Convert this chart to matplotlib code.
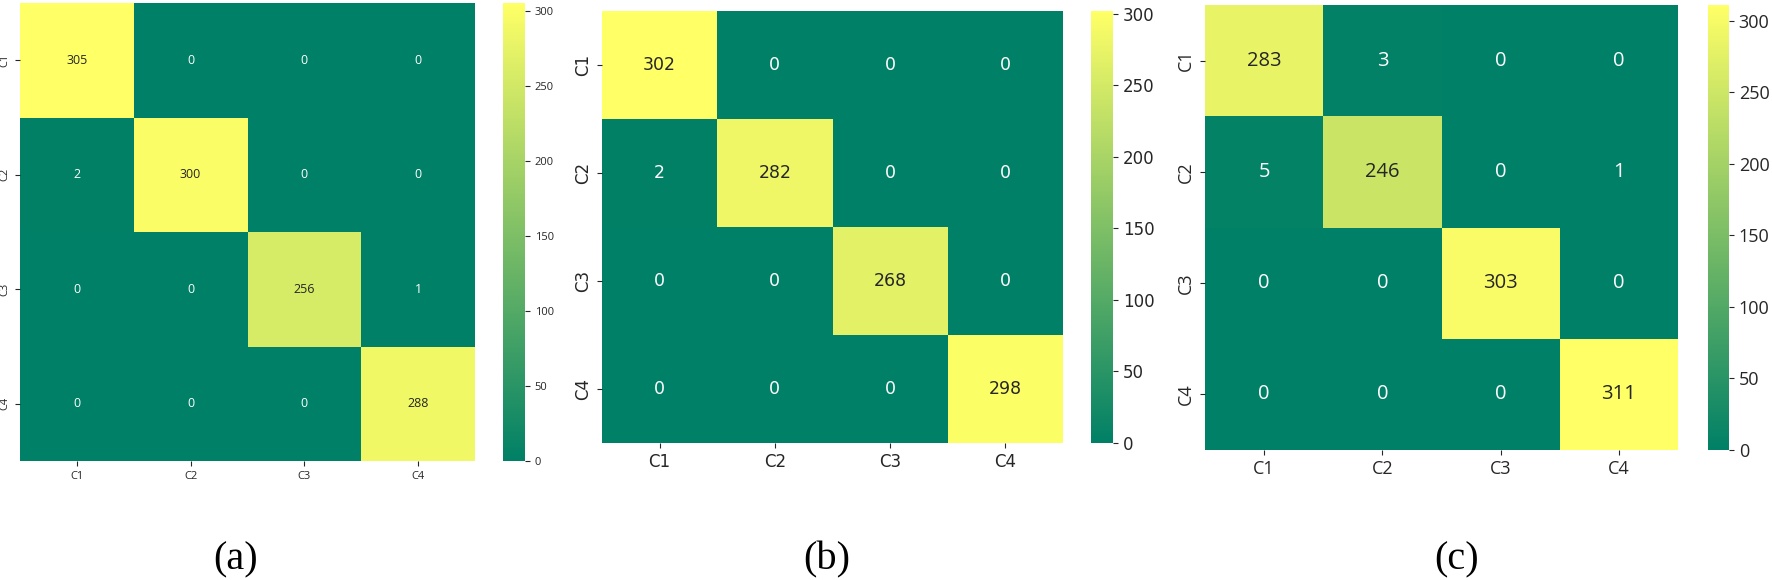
"""
Three confusion matrices side by side, (a) (b) (c), summer colormap.
Saves to out.png
"""

import numpy as np
import matplotlib.pyplot as plt

# Data
class_names = ['C1', 'C2', 'C3', 'C4']
cm_a = [[305, 0, 0, 0],
        [2, 300, 0, 0],
        [0, 0, 256, 1],
        [0, 0, 0, 288]]
cm_b = [[302, 0, 0, 0],
        [2, 282, 0, 0],
        [0, 0, 268, 0],
        [0, 0, 0, 298]]
cm_c = [[283, 3, 0, 0],
        [5, 246, 0, 1],
        [0, 0, 303, 0],
        [0, 0, 0, 311]]
panel_labels = ['(a)', '(b)', '(c)']
cbar_ticks = [0, 50, 100, 150, 200, 250, 300]

W, H = 1772, 580

# pixel boxes: heatmap (x0, x1, ytop, ybottom), colorbar (x0, x1)
panels = [
    dict(cm=cm_a, heat=(20, 475, 3, 461), cbar=(503, 525), font='Open Sans',
         tick_fs=8, annot_fs=9, lab_x=236),
    dict(cm=cm_b, heat=(602, 1063, 11, 443), cbar=(1091, 1113), font='DejaVu Sans',
         tick_fs=12, annot_fs=12.5, lab_x=827),
    dict(cm=cm_c, heat=(1205, 1678, 5, 450), cbar=(1708, 1729), font='Open Sans',
         tick_fs=13, annot_fs=14.5, lab_x=1457),
]

cmap = plt.get_cmap('summer')

fig = plt.figure(figsize=(W / 100, H / 100), dpi=100)

for i, p in enumerate(panels):
    data = np.array(p['cm'])
    x0, x1, yt, yb = p['heat']
    ax = fig.add_axes([x0 / W, 1 - yb / H, (x1 - x0) / W, (yb - yt) / H])
    vmin, vmax = 0, data.max()
    mesh = ax.pcolormesh(data, cmap=cmap, vmin=vmin, vmax=vmax)
    ax.set_xlim(0, data.shape[1])
    ax.set_ylim(data.shape[0], 0)
    for s in ax.spines.values():
        s.set_visible(False)

    # annotations, light text on dark cells and dark text on light cells
    for r in range(data.shape[0]):
        for c in range(data.shape[1]):
            val = data[r, c]
            rgba = cmap((val - vmin) / (vmax - vmin))
            lum = 0.2126 * rgba[0] + 0.7152 * rgba[1] + 0.0722 * rgba[2]
            color = 'w' if lum < 0.408 else '.15'
            ax.text(c + 0.5, r + 0.5, str(val), ha='center', va='center',
                    color=color, fontsize=p['annot_fs'], family=p['font'])

    ticks = np.arange(len(class_names)) + 0.5
    ax.set_xticks(ticks)
    ax.set_xticklabels(class_names, fontsize=p['tick_fs'], family=p['font'], color='#262626')
    ax.set_yticks(ticks)
    ax.set_yticklabels(class_names, fontsize=p['tick_fs'], family=p['font'], color='#262626',
                       rotation=90, va='center')
    ax.tick_params(length=3.5, width=0.8, color='#262626')

    # colorbar
    cx0, cx1 = p['cbar']
    cax = fig.add_axes([cx0 / W, 1 - yb / H, (cx1 - cx0) / W, (yb - yt) / H])
    cb = fig.colorbar(mesh, cax=cax, ticks=cbar_ticks)
    cb.outline.set_visible(False)
    cax.tick_params(length=3.5, width=0.8, labelsize=p['tick_fs'], color='#262626',
                    labelcolor='#262626')
    for t in cax.get_yticklabels():
        t.set_family(p['font'])

    # panel label
    fig.text(p['lab_x'] / W, 1 - 560 / H, panel_labels[i], ha='center', va='center',
             fontsize=29, family='Liberation Serif')

fig.savefig('out.png', dpi=100)
plt.close(fig)
